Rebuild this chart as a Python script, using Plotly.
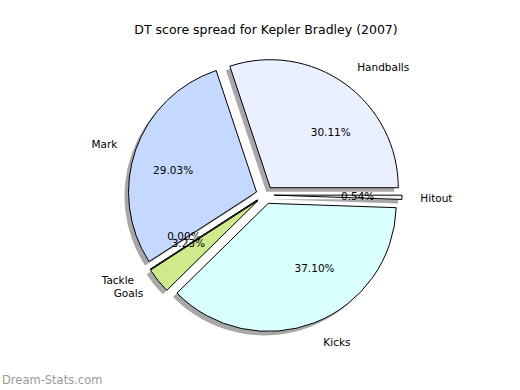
import plotly.graph_objects as go

# ---- data ----
labels = ["Hitout", "Handballs", "Mark", "Tackle", "Goals", "Kicks"]
values = [1, 56, 54, 0, 6, 69]
title_text = "DT score spread for Kepler Bradley (2007)"
watermark = "Dream-Stats.com"

# ---- style ----
colors = ["#F2F2F2", "#EAF0FF", "#C5D8FF", "#FFFFFF", "#CEEA8A", "#DAFFFF"]
PULL = 0.07
pulls = [PULL] * len(values)

W, H = 520, 390
cx, cy = 265, 195   # pie centre in pixels (from top-left)
R = 137             # half-size of main pie domain in pixels
FONT = "DejaVu Sans"


def dom(x, y, half):
    return dict(x=[(x - half) / W, (x + half) / W],
                y=[1 - (y + half) / H, 1 - (y - half) / H])


r_main = R / (1 + PULL)


def scaled(frac):
    """domain half-size and pull for a concentric pie of radius frac*r_main
    whose slices are offset by the same absolute distance as the main pie."""
    r = frac * r_main
    p = PULL * r_main / r
    return r * (1 + p), p


half_in, pull_in = scaled(0.5)
half_lab, pull_lab = scaled(1.12)

common = dict(labels=labels, values=values, sort=False, direction="counterclockwise",
              rotation=90, showlegend=False)
clear = ["rgba(0,0,0,0)"] * len(values)
pct = "%{percent:.2%}"
# split the percentage texts over two traces so overlapping texts are not pushed apart
pct_a = [pct if lab != "Tackle" else "" for lab in labels]
pct_b = [pct if lab == "Tackle" else "" for lab in labels]
lab_a = ["%{label}" if lab != "Tackle" else "" for lab in labels]
lab_b = ["%{label}" if lab == "Tackle" else "" for lab in labels]

fig = go.Figure()
# shadow
fig.add_trace(go.Pie(**common, pull=pulls, domain=dom(cx - 4, cy + 4, R),
                     marker=dict(colors=["rgba(0,0,0,0.34)"] * len(values), line=dict(width=0)),
                     textinfo="none", hoverinfo="skip"))
# main pie
fig.add_trace(go.Pie(**common, pull=pulls, domain=dom(cx, cy, R),
                     marker=dict(colors=colors, line=dict(color="black", width=1)),
                     textinfo="none"))
# labels and percentages (transparent concentric pies, text just outside them)
for tmpl, half, pl in [(lab_a, half_lab, pull_lab), (lab_b, half_lab, pull_lab),
                       (pct_a, half_in, pull_in), (pct_b, half_in, pull_in)]:
    fig.add_trace(go.Pie(**common, pull=[pl] * len(values), domain=dom(cx, cy, half),
                         marker=dict(colors=clear, line=dict(width=0)),
                         texttemplate=tmpl, textposition="outside",
                         textfont=dict(family=FONT, size=10.5, color="black"),
                         hoverinfo="skip"))

fig.update_layout(
    width=W, height=H,
    margin=dict(l=0, r=0, t=0, b=0),
    paper_bgcolor="white", plot_bgcolor="white",
    title=dict(text=title_text, x=266 / W, xanchor="center", y=1 - 30 / H, yanchor="middle",
               font=dict(family=FONT, size=12.5, color="black")),
    annotations=[dict(text=watermark, xref="paper", yref="paper", x=0, y=1 - 380 / H,
                      xanchor="left", yanchor="middle", showarrow=False,
                      font=dict(family=FONT, size=11.5, color="#9a9a9a"))],
)

fig.write_html("out.html", config={"displayModeBar": False},
               post_script="document.body.style.margin='0';")
